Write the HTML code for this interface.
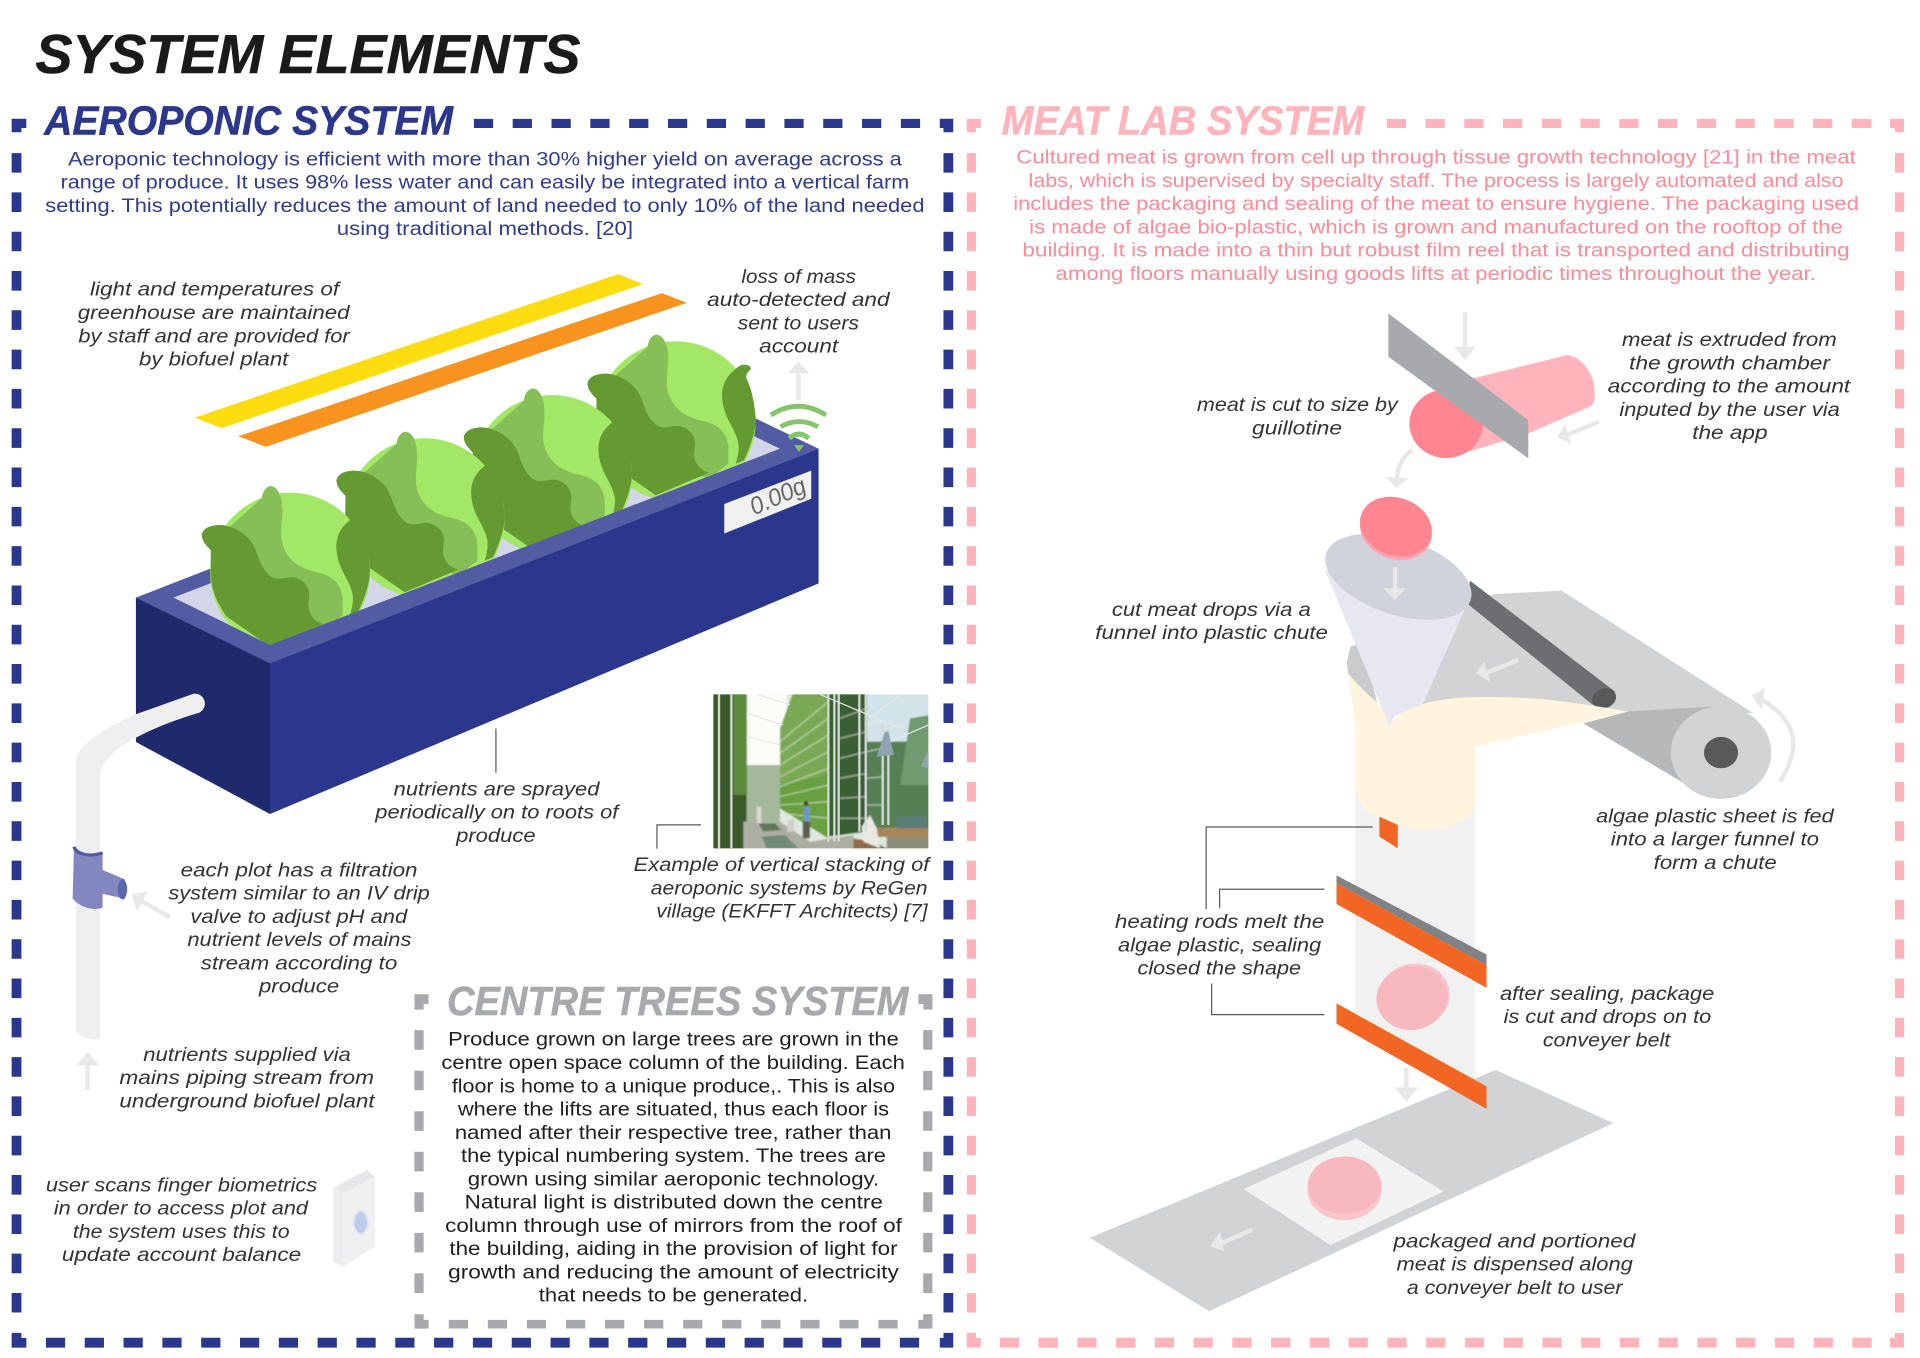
<!DOCTYPE html>
<html lang="en">
<head>
<meta charset="utf-8">
<title>System Elements</title>
<style>
html,body{margin:0;padding:0;background:#fff;}
svg{display:block;width:1920px;height:1358px;}
text{font-family:"Liberation Sans",sans-serif;white-space:pre;}
.h{font-weight:bold;font-style:italic;}
.b{font-size:16px;}
.i{font-size:16px;font-style:italic;fill:#333;}
.blue{fill:#2f3b91;}
.pink{fill:#fb8b97;}
.blk{fill:#1f1f1f;}
.a{stroke:#e8e8e8;stroke-width:3.6;fill:none;}
.af{fill:#e8e8e8;}
.l{stroke:#58595b;stroke-width:1;fill:none;}
</style>
</head>
<body>
<svg xmlns="http://www.w3.org/2000/svg" width="1920" height="1358" viewBox="0 0 1568 1109">
<defs>
<clipPath id="ph"><rect x="40" y="28" width="645" height="462"/></clipPath>
<filter id="soft" x="-5%" y="-5%" width="110%" height="110%"><feGaussianBlur stdDeviation="2.2"/></filter>
<g id="let">
<circle cx="300" cy="308" r="240" fill="#a3e767"/>
<path d="M215 85C218 60 232 48 243 48C262 50 275 75 277 110C280 150 265 190 280 230C295 275 340 300 385 308C430 318 455 345 458 385L458 435L400 480L150 400L100 250L120 170Z" fill="#86bf57"/>
<path d="M35 195C38 175 60 165 90 165C125 165 170 190 190 225C205 250 205 285 240 318C265 335 280 320 310 322C340 328 358 350 358 375C358 395 350 405 360 430C370 450 385 458 400 462L240 530L110 440C80 400 60 350 62 300L62 240C50 228 36 215 35 195Z" fill="#659a33"/>
<path d="M505 138C518 138 528 145 525 152C515 160 510 170 512 180C525 205 535 240 540 300C540 340 525 380 505 425L480 435C488 410 490 390 488 375C480 330 445 300 440 245C435 205 450 175 475 155C485 145 495 138 505 138Z" fill="#659a33"/>
</g>
</defs>

<rect x="0" y="0" width="1568" height="1109" fill="#fff"/>

<!-- BLUE BORDER -->
<g fill="#2a378c">
<path d="M9.5 97H21.5V104.5H17.5V108H9.5Z"/>
<path d="M767.5 97H778.5V108H770.5V104.5H767.5Z"/>
<path d="M9.5 1088.5H17.5V1092.6H21.5V1100.5H9.5Z"/>
<path d="M770.5 1088.5H778.5V1100.5H767.5V1092.6H770.5Z"/>
</g>
<line x1="387" y1="100.8" x2="766" y2="100.8" stroke="#2a378c" stroke-width="7.5" stroke-dasharray="15.7 16"/>
<line x1="37.5" y1="1096.5" x2="766" y2="1096.5" stroke="#2a378c" stroke-width="8" stroke-dasharray="15.7 16"/>
<line x1="13.5" y1="125" x2="13.5" y2="1075" stroke="#2a378c" stroke-width="8" stroke-dasharray="16 16.1"/>
<line x1="774.5" y1="125" x2="774.5" y2="1075" stroke="#2a378c" stroke-width="8" stroke-dasharray="16 16.1"/>

<!-- PINK BORDER -->
<g fill="#ffb3bb">
<path d="M789.5 97H801V104.5H797V108H789.5Z"/>
<path d="M1543.5 97H1555V108H1547.5V104.5H1543.5Z"/>
<path d="M789.5 1088.5H797V1092.6H801V1100.5H789.5Z"/>
<path d="M1547.5 1088.5H1555V1100.5H1543.5V1092.6H1547.5Z"/>
</g>
<line x1="1132.5" y1="100.8" x2="1530" y2="100.8" stroke="#ffb3bb" stroke-width="7.5" stroke-dasharray="15.7 15.95"/>
<line x1="816.5" y1="1096.5" x2="1530" y2="1096.5" stroke="#ffb3bb" stroke-width="8" stroke-dasharray="15.7 15.95"/>
<line x1="793.3" y1="125" x2="793.3" y2="1075" stroke="#ffb3bb" stroke-width="7.5" stroke-dasharray="16 16.1"/>
<line x1="1551.3" y1="125" x2="1551.3" y2="1075" stroke="#ffb3bb" stroke-width="7.5" stroke-dasharray="16 16.1"/>

<!-- GREY BORDER -->
<g fill="#a7a9ac">
<path d="M338.5 812H350V820H346V824.5H338.5Z"/>
<path d="M750 812H761.5V824.5H754V820H750Z"/>
<path d="M338.5 1073.3H346V1077.9H350V1085H338.5Z"/>
<path d="M754 1073.3H761.5V1085H750V1077.9H754Z"/>
</g>
<line x1="366.5" y1="1081.4" x2="745" y2="1081.4" stroke="#a7a9ac" stroke-width="7" stroke-dasharray="15.7 16.2"/>
<line x1="342.2" y1="841.3" x2="342.2" y2="1066" stroke="#a7a9ac" stroke-width="7.5" stroke-dasharray="16 17.1"/>
<line x1="757.7" y1="841.3" x2="757.7" y2="1066" stroke="#a7a9ac" stroke-width="7.5" stroke-dasharray="16 17.1"/>

<!-- HEADINGS -->
<text class="h" x="29" y="59.5" font-size="45" fill="#1a1a1a" stroke="#1a1a1a" stroke-width=".5" textLength="445" lengthAdjust="spacingAndGlyphs">SYSTEM ELEMENTS</text>
<text class="h" x="36" y="110" font-size="33.5" fill="#2b378d" stroke="#2b378d" stroke-width=".4" textLength="334" lengthAdjust="spacingAndGlyphs">AEROPONIC SYSTEM</text>
<text class="h" x="818" y="110" font-size="33.5" fill="#ffb3bb" stroke="#ffb3bb" stroke-width=".4" textLength="296" lengthAdjust="spacingAndGlyphs">MEAT LAB SYSTEM</text>
<text class="h" x="365" y="829" font-size="33.5" fill="#a7a9ac" stroke="#a7a9ac" stroke-width=".4" textLength="377" lengthAdjust="spacingAndGlyphs">CENTRE TREES SYSTEM</text>

<!-- BLUE BODY -->
<text class="b blue" x="55.5" y="135" textLength="681" lengthAdjust="spacingAndGlyphs">Aeroponic technology is efficient with more than 30% higher yield on average across a</text>
<text class="b blue" x="49.5" y="154" textLength="693" lengthAdjust="spacingAndGlyphs">range of produce. It uses 98% less water and can easily be integrated into a vertical farm</text>
<text class="b blue" x="37" y="173" textLength="718" lengthAdjust="spacingAndGlyphs">setting. This potentially reduces the amount of land needed to only 10% of the land needed</text>
<text class="b blue" x="275" y="192" textLength="242" lengthAdjust="spacingAndGlyphs">using traditional methods. [20]</text>

<!-- PINK BODY -->
<text class="b pink" x="830" y="133.5" textLength="685.5" lengthAdjust="spacingAndGlyphs">Cultured meat is grown from cell up through tissue growth technology [21] in the meat</text>
<text class="b pink" x="840" y="152.5" textLength="665.5" lengthAdjust="spacingAndGlyphs">labs, which is supervised by specialty staff. The process is largely automated and also</text>
<text class="b pink" x="827.5" y="171.5" textLength="690.5" lengthAdjust="spacingAndGlyphs">includes the packaging and sealing of the meat to ensure hygiene. The packaging used</text>
<text class="b pink" x="840.5" y="190.5" textLength="664.5" lengthAdjust="spacingAndGlyphs">is made of algae bio-plastic, which is grown and manufactured on the rooftop of the</text>
<text class="b pink" x="835" y="209.5" textLength="675.5" lengthAdjust="spacingAndGlyphs">building. It is made into a thin but robust film reel that is transported and distributing</text>
<text class="b pink" x="862" y="228.5" textLength="621" lengthAdjust="spacingAndGlyphs">among floors manually using goods lifts at periodic times throughout the year.</text>

<!-- CENTRE BODY -->
<text class="b blk" x="366" y="854" textLength="368" lengthAdjust="spacingAndGlyphs">Produce grown on large trees are grown in the</text>
<text class="b blk" x="360.5" y="873" textLength="378.5" lengthAdjust="spacingAndGlyphs">centre open space column of the building. Each</text>
<text class="b blk" x="369" y="892" textLength="362" lengthAdjust="spacingAndGlyphs">floor is home to a unique produce,. This is also</text>
<text class="b blk" x="374" y="911" textLength="352" lengthAdjust="spacingAndGlyphs">where the lifts are situated, thus each floor is</text>
<text class="b blk" x="371.5" y="930" textLength="356.5" lengthAdjust="spacingAndGlyphs">named after their respective tree, rather than</text>
<text class="b blk" x="376.5" y="949" textLength="347" lengthAdjust="spacingAndGlyphs">the typical numbering system. The trees are</text>
<text class="b blk" x="382" y="968" textLength="336" lengthAdjust="spacingAndGlyphs">grown using similar aeroponic technology.</text>
<text class="b blk" x="379.5" y="987" textLength="341.5" lengthAdjust="spacingAndGlyphs">Natural light is distributed down the centre</text>
<text class="b blk" x="363.5" y="1006" textLength="373" lengthAdjust="spacingAndGlyphs">column through use of mirrors from the roof of</text>
<text class="b blk" x="367" y="1025" textLength="366" lengthAdjust="spacingAndGlyphs">the building, aiding in the provision of light for</text>
<text class="b blk" x="366" y="1044" textLength="368" lengthAdjust="spacingAndGlyphs">growth and reducing the amount of electricity</text>
<text class="b blk" x="440" y="1063" textLength="220" lengthAdjust="spacingAndGlyphs">that needs to be generated.</text>

<!-- LIGHT STRIPS -->
<polygon points="159,341 505,223.9 525,232 181,349.6" fill="#fddc10"/>
<polygon points="194.5,356.3 540.5,239.4 561,247.2 217,364.8" fill="#f7931e"/>

<!-- BOX -->
<polygon points="111,488 559,313.7 668.5,366.5 220.5,541.6" fill="#515ca3"/>
<polygon points="141.5,488 558.5,328.3 637,366.5 220.5,526.7" fill="#d2d6e8"/>

<!-- LETTUCES -->
<g transform="translate(470.2,260.2) scale(.2722)"><use href="#let"/></g>
<g transform="translate(369.2,304.1) scale(.2722)"><use href="#let"/></g>
<g transform="translate(265.2,339.4) scale(.2722)"><use href="#let"/></g>
<g transform="translate(155.2,383.8) scale(.2722)"><use href="#let"/></g>

<!-- FRONT RIM -->
<polygon points="111,488 141.5,488 220.5,526.7 637,366.5 668.5,366.5 220.5,541.6" fill="#515ca3"/>
<polygon points="111,488 220.5,541.6 220.5,664.8 111,606" fill="#1e2a6b"/>
<polygon points="220.5,541.6 668.5,366.5 668.5,476.4 220.5,664.8" fill="#2a378c"/>

<!-- WIFI -->
<g fill="none" stroke="#86c46b" stroke-width="4">
<path d="M629.5 339Q652 324.5 674.5 339"/>
<path d="M637.5 348.5Q652.5 340 668 348.5"/>
<path d="M644.5 358Q652.5 351 660.5 358"/>
</g>
<polygon points="648.5,363.5 656.5,363.5 652.5,369" fill="#86c46b"/>
<line class="a" x1="652" y1="326.6" x2="652" y2="303"/>
<polygon class="af" points="643,305 661,305 652,295.3"/>

<!-- SCREEN -->
<polygon points="591.5,411.6 662.5,384.3 662.5,407.3 591.5,435.7" fill="#f1f1f2"/>
<text transform="translate(616,421) rotate(-24)" font-size="20" font-style="italic" fill="#666" textLength="48" lengthAdjust="spacingAndGlyphs">0.00g</text>

<!-- PIPE -->
<path d="M62 842.6L62 622C62 612 75 600 109 584L158 566.5A8.2 8.2 0 0 1 161 582.6C135 590 100 605 89.8 618C84 624 81.6 630 81.6 636L81.6 848C75 850 68 848 62 842.6Z" fill="#efefef"/>
<path d="M60.4 691.5C62 697 72 700.5 83.8 696.4L83.8 710.5L102 718.1L102 734L83.8 730L83.8 741C78 744 66 742 59.3 733.7Z" fill="#8287c0"/>
<path d="M60.4 691.5C62 697 72 700.5 83.8 696.4" fill="none" stroke="#4f5ba6" stroke-width="2.6"/>
<ellipse cx="100" cy="726.3" rx="3.8" ry="8.2" fill="#5a66ad"/>
<line class="a" x1="138.8" y1="749.2" x2="116" y2="736"/>
<polygon class="af" points="107.5,730.1 120.3,728.2 112.1,744.6"/>
<line class="a" x1="71.5" y1="890" x2="71.5" y2="868"/>
<polygon class="af" points="62.5,870 81,870 71.5,859"/>

<!-- DEVICE -->
<polygon points="272.2,970 280.4,974.6 280.4,1034.5 272.2,1030.4" fill="#ececee"/>
<polygon points="272.2,970 299.5,955.5 306.3,961 280.4,974.6" fill="#e7e7e9"/>
<polygon points="280.4,974.6 306.3,961 306.3,1018.1 280.4,1034.5" fill="#f0f0f1"/>
<ellipse cx="294.6" cy="998.3" rx="6.8" ry="10.3" fill="#e1e6f2"/>
<ellipse cx="294.6" cy="998.3" rx="5" ry="8.5" fill="#bccced"/>

<!-- NUTRIENT LINE -->
<line class="l" x1="405" y1="595" x2="405" y2="631"/>
<polyline class="l" points="572.5,673.6 536.5,673.6 536.5,693"/>

<!-- PHOTO -->
<g clip-path="url(#ph)" transform="translate(571.7,559.4) scale(.2722)">
<g filter="url(#soft)">
<rect x="20" y="10" width="680" height="500" fill="#dfe8df"/>
<rect x="140" y="20" width="120" height="240" fill="#fbfcf7"/>
<rect x="140" y="240" width="100" height="170" fill="#a5b89b"/>
<rect x="500" y="20" width="190" height="180" fill="#d3e3ea"/>
<rect x="500" y="170" width="190" height="260" fill="#567f56"/>
<polygon points="630,100 690,90 690,300 600,300" fill="#6f9a70"/>
<rect x="20" y="20" width="120" height="480" fill="#3a5a2c"/>
<rect x="100" y="20" width="40" height="310" fill="#5a8a3a"/>
<polygon points="240,130 280,20 385,20 385,460 240,370" fill="#7aa955"/>
<polygon points="240,300 385,270 385,460 240,370" fill="#69a040"/>
<polygon points="385,20 500,20 500,440 385,455" fill="#3a5f36"/>
<g stroke="#e2e8d8" stroke-width="4" opacity=".6">
<line x1="240" y1="170" x2="385" y2="50"/><line x1="240" y1="205" x2="385" y2="100"/>
<line x1="240" y1="240" x2="385" y2="150"/><line x1="240" y1="275" x2="385" y2="200"/>
<line x1="240" y1="305" x2="385" y2="250"/><line x1="240" y1="335" x2="385" y2="300"/>
<line x1="240" y1="360" x2="385" y2="350"/><line x1="240" y1="385" x2="385" y2="400"/>
<line x1="420" y1="100" x2="500" y2="70"/><line x1="420" y1="160" x2="500" y2="140"/>
<line x1="420" y1="220" x2="500" y2="200"/><line x1="420" y1="280" x2="500" y2="265"/>
<line x1="420" y1="340" x2="500" y2="335"/><line x1="420" y1="400" x2="500" y2="400"/>
<line x1="500" y1="120" x2="548" y2="105"/><line x1="500" y1="200" x2="548" y2="190"/>
<line x1="500" y1="280" x2="548" y2="275"/><line x1="500" y1="360" x2="548" y2="360"/>
</g>
<polygon points="130,500 130,410 240,410 330,470 460,450 460,500" fill="#adaea2"/>
<polygon points="175,415 225,415 245,435 190,440" fill="#5d7a5f"/>
<polygon points="185,455 255,450 295,490 200,490" fill="#6e8c78"/>
<rect x="520" y="428" width="170" height="28" fill="#a8865c"/>
<polygon points="460,460 520,470 580,500 460,500" fill="#8d6e47"/>
<rect x="560" y="456" width="130" height="40" fill="#8a8d78"/>
<polygon points="485,425 510,390 530,430 540,490 490,470" fill="#e9e9e2"/>
<rect x="590" y="395" width="90" height="35" fill="#5d7d78"/>
<rect x="310" y="365" width="20" height="45" fill="#6d9ac0"/>
<rect x="308" y="410" width="22" height="50" fill="#5b5b4e"/>
<circle cx="318" cy="356" r="7" fill="#4e3a2b"/>
<rect x="170" y="365" width="14" height="50" fill="#d9d8cf"/>
<rect x="262" y="405" width="20" height="35" fill="#cfd0c8"/>
</g>
<g stroke="#d3d8d5" stroke-width="7">
<line x1="57" y1="28" x2="57" y2="490"/><line x1="94" y1="28" x2="94" y2="490"/>
<line x1="385" y1="28" x2="385" y2="470"/><line x1="403" y1="28" x2="403" y2="470"/>
<line x1="416" y1="28" x2="416" y2="470"/><line x1="478" y1="28" x2="478" y2="440"/>
<line x1="497" y1="28" x2="497" y2="440"/><line x1="548" y1="120" x2="548" y2="420"/>
<line x1="565" y1="120" x2="565" y2="420"/>
</g>
<g stroke="#e4e9e6" stroke-width="3.5">
<line x1="140" y1="85" x2="250" y2="120"/><line x1="140" y1="155" x2="240" y2="180"/>
<line x1="170" y1="28" x2="270" y2="60"/><line x1="360" y1="28" x2="600" y2="130"/>
<line x1="570" y1="170" x2="685" y2="120"/><line x1="600" y1="30" x2="510" y2="100"/>
</g>
<polygon points="555,140 565,140 582,210 530,215" fill="#8fa3b0"/>
<polygon points="685,195 685,250 662,245" fill="#8fa3b0"/>
</g>

<!-- MEAT: GUILLOTINE -->
<path d="M1203 309L1279.4 290C1290 290 1302 305 1302 317C1303 326 1302 330 1298.5 332L1248 354L1199 369Z" fill="#ffb3ba"/>
<ellipse cx="1181" cy="346" rx="30" ry="28" fill="#ff8591"/>
<polygon points="1133.8,255.9 1248.1,343 1248.1,374.3 1133.8,291.3" fill="#a7a9ac"/>
<line class="a" x1="1196.5" y1="255" x2="1196.5" y2="285"/>
<polygon class="af" points="1187.5,283 1205.5,283 1196.5,294"/>
<line class="a" x1="1306" y1="344.4" x2="1280" y2="355"/>
<polygon class="af" points="1271.8,357 1278,347 1283.5,362.6"/>
<path class="a" d="M1153.4 367.5C1145 373 1141 382 1141 392"/>
<polygon class="af" points="1131.9,389.3 1150.1,390.6 1140.6,398.8"/>

<!-- CHUTE -->
<polygon points="1106.6,600 1204.6,600 1204.6,882 1106.6,827" fill="#f1f1f2"/>

<!-- SHEET -->
<polygon points="1103,528 1100,540 1101,551 1125,575 1112,525" fill="#c9cbcc"/>
<polygon points="1198,490 1222,485 1275.4,482.3 1432,582.5 1328,581 1240,575 1161,576" fill="#d1d3d4"/>
<polygon points="1293,590.7 1329.8,581 1399,577 1380,642.4" fill="#b5b7b9"/>
<ellipse cx="1405.5" cy="614.6" rx="41" ry="37.8" fill="#d1d3d4"/>
<ellipse cx="1405.5" cy="614.6" rx="13.9" ry="12.8" fill="#58595b"/>
<path class="a" d="M1453.7 638.3C1470 612 1470 590 1438 571"/>
<polygon class="af" points="1430.6,567.5 1441.4,562.1 1438.7,579.8"/>
<line class="a" x1="1240" y1="539" x2="1214" y2="549.5"/>
<polygon class="af" points="1205.4,549.8 1212,540.3 1217.4,557.2"/>

<!-- ROD -->
<polygon points="1200.5,474.2 1319,564.8 1301,575.7 1198,492.7" fill="#6d6e71"/>
<ellipse cx="1310" cy="570.3" rx="10" ry="8" fill="#58595b" transform="rotate(-20 1310 570.3)"/>

<!-- CREAM -->
<path d="M1101 549.8L1106.6 590.7L1106.6 645C1110 655 1114 662 1125 668C1140 676 1155 678 1165 677.8C1185 677 1200 670 1204.6 658.7L1204.6 609.7L1329.8 581C1300 576 1275 572 1252 570.3C1230 569 1210 569 1197.8 569.4C1185 570 1172 572 1162 575C1148 579 1140 585 1134.7 592.9C1132 585 1130 580 1125.7 574.4C1115 566 1106 556 1101 549.8Z" fill="#fff5df"/>

<!-- CONE -->
<polygon points="1082,465.5 1134.7,592.9 1139,585 1162,575 1197.8,494" fill="#e6e7f0"/>
<ellipse cx="1142" cy="471" rx="62" ry="31" fill="#d0d2dc" transform="rotate(18 1142 471)"/>
<line class="a" x1="1139.3" y1="463" x2="1139.3" y2="482"/>
<polygon class="af" points="1129.8,480.4 1148.3,480.4 1139.3,490"/>

<!-- DISC -->
<ellipse cx="1140" cy="432.5" rx="30" ry="24" fill="#ffa0aa" transform="rotate(20 1140 432.5)"/>
<ellipse cx="1140" cy="430" rx="30" ry="23.5" fill="#ff8591" transform="rotate(20 1140 430)"/>

<!-- RODS -->
<polygon points="1126.5,666.9 1141.5,673.7 1141.5,692.8 1126.5,683.2" fill="#f26522"/>
<polyline class="l" points="1121,675.4 985,675.4 985,742.4"/>
<polyline class="l" points="1081.5,726.2 996,726.2 996,741.4"/>
<polyline class="l" points="989.5,803.2 989.5,828.6 1081.5,828.6"/>

<!-- BELT -->
<polygon points="1221.5,873.8 1317.5,917.2 987.5,1070.8 890,1010.8" fill="#d1d3d4"/>
<polygon points="1107.5,929.6 1179,973 1086.5,1016.8 1015.5,971" fill="#f1f2f2"/>
<ellipse cx="1098" cy="973" rx="30" ry="23.5" fill="#f9c6cc"/>
<ellipse cx="1098" cy="968" rx="30" ry="23.5" fill="#f7b8bf"/>
<line class="a" x1="1023" y1="1004" x2="998" y2="1015"/>
<polygon class="af" points="988,1018 996.5,1005.5 1000,1022"/>

<!-- CHUTE BARS -->
<polygon points="1091.5,714.9 1214,779.5 1214,788.4 1091.5,721.3" fill="#808285"/>
<polygon points="1091.5,721.3 1214,788.4 1214,806.7 1091.5,738.2" fill="#f26522"/>
<polygon points="1091.5,819.4 1214,887.2 1214,905.6 1091.5,836" fill="#f26522"/>
<ellipse cx="1155" cy="813" rx="29" ry="26" fill="#f9c6cc" transform="rotate(-10 1155 813)"/>
<ellipse cx="1153" cy="815" rx="29" ry="26" fill="#f7b8bf" transform="rotate(-10 1153 815)"/>
<line class="a" x1="1148.5" y1="872" x2="1148.5" y2="890"/>
<polygon class="af" points="1139,888 1158,888 1148.5,900"/>

<!-- ITALIC LABELS -->
<text class="i" x="73.5" y="241.5" textLength="203.5" lengthAdjust="spacingAndGlyphs">light and temperatures of</text>
<text class="i" x="63.5" y="260.5" textLength="222" lengthAdjust="spacingAndGlyphs">greenhouse are maintained</text>
<text class="i" x="64" y="279.5" textLength="221.5" lengthAdjust="spacingAndGlyphs">by staff and are provided for</text>
<text class="i" x="113.5" y="298.5" textLength="122" lengthAdjust="spacingAndGlyphs">by biofuel plant</text>

<text class="i" x="605.5" y="231" textLength="93.5" lengthAdjust="spacingAndGlyphs">loss of mass</text>
<text class="i" x="577.5" y="250" textLength="149" lengthAdjust="spacingAndGlyphs">auto-detected and</text>
<text class="i" x="602.5" y="269" textLength="99" lengthAdjust="spacingAndGlyphs">sent to users</text>
<text class="i" x="620" y="288" textLength="64.5" lengthAdjust="spacingAndGlyphs">account</text>

<text class="i" x="321.5" y="649.6" textLength="168" lengthAdjust="spacingAndGlyphs">nutrients are sprayed</text>
<text class="i" x="306.5" y="668.6" textLength="198.5" lengthAdjust="spacingAndGlyphs">periodically on to roots of</text>
<text class="i" x="372.5" y="687.6" textLength="65" lengthAdjust="spacingAndGlyphs">produce</text>

<text class="i" x="517.5" y="711.4" textLength="241.5" lengthAdjust="spacingAndGlyphs">Example of vertical stacking of</text>
<text class="i" x="531.5" y="730.4" textLength="226" lengthAdjust="spacingAndGlyphs">aeroponic systems by ReGen</text>
<text class="i" x="536" y="749.4" textLength="221.5" lengthAdjust="spacingAndGlyphs">village (EKFFT Architects) [7]</text>

<text class="i" x="147.5" y="715.6" textLength="193.5" lengthAdjust="spacingAndGlyphs">each plot has a filtration</text>
<text class="i" x="137.5" y="734.6" textLength="213.5" lengthAdjust="spacingAndGlyphs">system similar to an IV drip</text>
<text class="i" x="155.5" y="753.6" textLength="177" lengthAdjust="spacingAndGlyphs">valve to adjust pH and</text>
<text class="i" x="153" y="772.6" textLength="183" lengthAdjust="spacingAndGlyphs">nutrient levels of mains</text>
<text class="i" x="164" y="791.6" textLength="160.5" lengthAdjust="spacingAndGlyphs">stream according to</text>
<text class="i" x="211.5" y="810.6" textLength="65.5" lengthAdjust="spacingAndGlyphs">produce</text>

<text class="i" x="117" y="866.4" textLength="169.5" lengthAdjust="spacingAndGlyphs">nutrients supplied via</text>
<text class="i" x="97.5" y="885.4" textLength="208" lengthAdjust="spacingAndGlyphs">mains piping stream from</text>
<text class="i" x="97.5" y="904.4" textLength="208.5" lengthAdjust="spacingAndGlyphs">underground biofuel plant</text>

<text class="i" x="37.5" y="973" textLength="221.5" lengthAdjust="spacingAndGlyphs">user scans finger biometrics</text>
<text class="i" x="44" y="992" textLength="207.5" lengthAdjust="spacingAndGlyphs">in order to access plot and</text>
<text class="i" x="59.5" y="1011" textLength="177" lengthAdjust="spacingAndGlyphs">the system uses this to</text>
<text class="i" x="50.5" y="1030" textLength="195.5" lengthAdjust="spacingAndGlyphs">update account balance</text>

<text class="i" x="1324.5" y="282.6" textLength="175.5" lengthAdjust="spacingAndGlyphs">meat is extruded from</text>
<text class="i" x="1330.5" y="301.6" textLength="164" lengthAdjust="spacingAndGlyphs">the growth chamber</text>
<text class="i" x="1313" y="320.6" textLength="198" lengthAdjust="spacingAndGlyphs">according to the amount</text>
<text class="i" x="1322.5" y="339.6" textLength="180" lengthAdjust="spacingAndGlyphs">inputed by the user via</text>
<text class="i" x="1382" y="358.6" textLength="61.5" lengthAdjust="spacingAndGlyphs">the app</text>

<text class="i" x="977.5" y="335.8" textLength="164" lengthAdjust="spacingAndGlyphs">meat is cut to size by</text>
<text class="i" x="1022.5" y="354.8" textLength="73.5" lengthAdjust="spacingAndGlyphs">guillotine</text>

<text class="i" x="908" y="503" textLength="162.5" lengthAdjust="spacingAndGlyphs">cut meat drops via a</text>
<text class="i" x="894.5" y="522" textLength="190" lengthAdjust="spacingAndGlyphs">funnel into plastic chute</text>

<text class="i" x="1303.5" y="671.5" textLength="194" lengthAdjust="spacingAndGlyphs">algae plastic sheet is fed</text>
<text class="i" x="1315.5" y="690.5" textLength="170" lengthAdjust="spacingAndGlyphs">into a larger funnel to</text>
<text class="i" x="1350.5" y="709.5" textLength="100.5" lengthAdjust="spacingAndGlyphs">form a chute</text>

<text class="i" x="910.5" y="758" textLength="171" lengthAdjust="spacingAndGlyphs">heating rods melt the</text>
<text class="i" x="913" y="777" textLength="166" lengthAdjust="spacingAndGlyphs">algae plastic, sealing</text>
<text class="i" x="929" y="796" textLength="133.5" lengthAdjust="spacingAndGlyphs">closed the shape</text>

<text class="i" x="1225" y="816.6" textLength="175" lengthAdjust="spacingAndGlyphs">after sealing, package</text>
<text class="i" x="1228" y="835.6" textLength="169.5" lengthAdjust="spacingAndGlyphs">is cut and drops on to</text>
<text class="i" x="1260" y="854.6" textLength="104" lengthAdjust="spacingAndGlyphs">conveyer belt</text>

<text class="i" x="1138" y="1018.6" textLength="197.5" lengthAdjust="spacingAndGlyphs">packaged and portioned</text>
<text class="i" x="1140.5" y="1037.6" textLength="193" lengthAdjust="spacingAndGlyphs">meat is dispensed along</text>
<text class="i" x="1149" y="1056.6" textLength="176" lengthAdjust="spacingAndGlyphs">a conveyer belt to user</text>
</svg>
</body>
</html>
